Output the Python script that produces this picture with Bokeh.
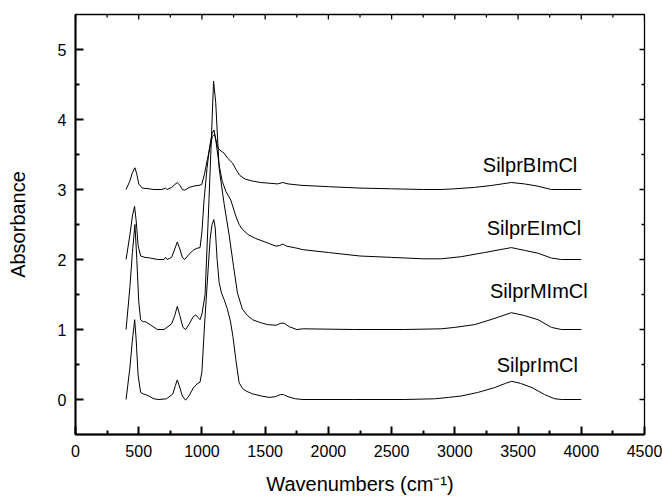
import math
from bokeh.plotting import figure
from bokeh.models import LinearAxis, FixedTicker, Label, ColumnDataSource, Range1d
from bokeh.embed import file_html
from bokeh.resources import INLINE

# ---- data ----
wn_imcl = [400, 430, 450, 468, 480, 495, 515, 535, 555, 580,
           620, 660, 720, 770, 790, 805, 820, 845, 871, 900,
           930, 960, 985, 1000, 1020, 1045, 1065, 1080, 1094, 1105,
           1120, 1136, 1155, 1175, 1200, 1225, 1245, 1268, 1294, 1320,
           1350, 1400, 1470, 1530, 1580, 1620, 1645, 1680, 1740, 1800,
           2200, 2600, 2840, 2950, 3050, 3180, 3315, 3400, 3450, 3520,
           3610, 3710, 3790, 3850, 4000]
abs_imcl = [0.0, 0.45, 0.85, 1.14, 0.85, 0.35, 0.1, 0.08, 0.07, 0.05,
            0.01, 0.0, 0.01, 0.08, 0.2, 0.28, 0.2, 0.05, -0.01, 0.06,
            0.16, 0.22, 0.25, 0.4, 1.05, 1.75, 2.3, 2.5, 2.57, 2.45,
            2.0, 1.67, 1.52, 1.43, 1.3, 1.12, 0.9, 0.57, 0.24, 0.16,
            0.12, 0.08, 0.05, 0.03, 0.04, 0.07, 0.07, 0.04, 0.01, 0.0,
            0.0, 0.0, 0.01, 0.03, 0.05, 0.1, 0.17, 0.23, 0.26, 0.23,
            0.17, 0.07, 0.01, 0.0, 0.0]

wn_mimcl = [400, 430, 450, 470, 485, 500, 515, 535, 555, 590,
            647, 700, 760, 785, 805, 825, 850, 871, 900, 930,
            951, 970, 985, 1000, 1025, 1056, 1075, 1092, 1109, 1136,
            1175, 1215, 1250, 1281, 1320, 1360, 1400, 1460, 1520, 1585,
            1625, 1650, 1690, 1750, 1800, 2200, 2600, 2892, 3000, 3157,
            3300, 3447, 3550, 3658, 3764, 3843, 4000]
abs_mimcl = [1.0, 1.6, 2.1, 2.5, 2.0, 1.4, 1.14, 1.11, 1.11, 1.07,
             1.0, 1.0, 1.08, 1.2, 1.33, 1.2, 1.03, 1.0, 1.08, 1.18,
             1.21, 1.17, 1.14, 1.22, 1.5, 2.86, 3.75, 4.55, 4.24, 3.3,
             2.8, 2.35, 1.9, 1.52, 1.29, 1.2, 1.14, 1.1, 1.07, 1.06,
             1.09, 1.09, 1.04, 1.0, 1.01, 1.0, 1.0, 1.01, 1.03, 1.07,
             1.15, 1.24, 1.2, 1.14, 1.03, 1.0, 1.0]

wn_eimcl = [400, 430, 450, 467, 480, 495, 515, 550, 594, 650,
            700, 712, 725, 760, 785, 805, 825, 845, 864, 900,
            937, 960, 985, 1000, 1017, 1040, 1060, 1080, 1095, 1110,
            1136, 1160, 1190, 1228, 1268, 1294, 1320, 1370, 1426, 1500,
            1585, 1615, 1640, 1670, 1730, 1800, 2000, 2250, 2500, 2750,
            2892, 3050, 3235, 3447, 3552, 3658, 3764, 3843, 4000]
abs_eimcl = [2.0, 2.35, 2.62, 2.76, 2.55, 2.2, 2.05, 2.03, 2.02, 2.0,
             2.0, 2.03, 2.0, 2.03, 2.15, 2.25, 2.15, 2.03, 2.0, 2.08,
             2.14, 2.16, 2.17, 2.4, 2.86, 3.3, 3.6, 3.8, 3.85, 3.7,
             3.35, 3.12, 2.97, 2.85, 2.62, 2.5, 2.43, 2.35, 2.3, 2.25,
             2.19, 2.2, 2.22, 2.19, 2.17, 2.14, 2.1, 2.05, 2.03, 2.01,
             2.01, 2.04, 2.1, 2.17, 2.13, 2.09, 2.02, 2.0, 2.0]

wn_bimcl = [400, 430, 450, 470, 485, 500, 528, 580, 620, 680,
            700, 712, 725, 760, 785, 805, 825, 845, 864, 900,
            937, 977, 998, 1020, 1043, 1063, 1083, 1100, 1122, 1136,
            1175, 1202, 1241, 1268, 1300, 1340, 1400, 1466, 1530, 1598,
            1640, 1680, 1783, 2000, 2258, 2500, 2750, 2892, 3000, 3157,
            3300, 3447, 3550, 3650, 3764, 3850, 4000]
abs_bimcl = [3.0, 3.12, 3.24, 3.31, 3.22, 3.08, 3.02, 3.01, 3.0, 3.0,
             3.01, 3.02, 3.0, 3.03, 3.07, 3.1, 3.06, 3.0, 2.99, 3.03,
             3.05, 3.06, 3.07, 3.22, 3.43, 3.6, 3.76, 3.79, 3.62, 3.57,
             3.52, 3.45, 3.38, 3.29, 3.2, 3.15, 3.12, 3.1, 3.09, 3.08,
             3.1, 3.08, 3.06, 3.04, 3.02, 3.01, 3.0, 3.0, 3.01, 3.03,
             3.06, 3.1, 3.08, 3.05, 3.0, 3.0, 3.0]

series_names = ["SilprImCl", "SilprMImCl", "SilprEImCl", "SilprBImCl"]
series_wn = [wn_imcl, wn_mimcl, wn_eimcl, wn_bimcl]
series_abs = [abs_imcl, abs_mimcl, abs_eimcl, abs_bimcl]

x_major = [0, 500, 1000, 1500, 2000, 2500, 3000, 3500, 4000, 4500]
x_minor = [250, 750, 1250, 1750, 2250, 2750, 3250, 3750, 4250]
y_major = [0, 1, 2, 3, 4, 5]
y_minor = [0.5, 1.5, 2.5, 3.5, 4.5]

FONT = "Liberation Sans"
X0, X1 = 0, 4500
Y0, Y1 = -0.5, 5.5

p = figure(width=662, height=497, output_backend="svg", toolbar_location=None,
           x_range=Range1d(X0, X1), y_range=Range1d(Y0, Y1),
           x_axis_location=None, y_axis_location=None,
           min_border_left=75, min_border_right=18, min_border_top=14, min_border_bottom=63)
p.xgrid.visible = False
p.ygrid.visible = False
p.outline_line_color = "black"
p.outline_line_width = 1.3
p.background_fill_color = "white"
p.border_fill_color = "white"


def make_axis(ticks, minor):
    ax = LinearAxis(ticker=FixedTicker(ticks=ticks, minor_ticks=minor))
    ax.major_tick_in = 8
    ax.major_tick_out = 0
    ax.minor_tick_in = 4
    ax.minor_tick_out = 0
    ax.axis_line_width = 2
    ax.axis_line_color = "black"
    ax.major_tick_line_width = 2
    ax.minor_tick_line_width = 2
    ax.major_tick_line_color = "black"
    ax.minor_tick_line_color = "black"
    ax.major_label_text_font = FONT
    ax.major_label_text_font_size = "16px"
    ax.major_label_text_color = "black"
    ax.axis_label_text_font = FONT
    ax.axis_label_text_font_size = "20px"
    ax.axis_label_text_font_style = "normal"
    ax.axis_label_text_color = "black"
    return ax


bottom = make_axis(x_major, x_minor)
bottom.major_label_standoff = 10
bottom.axis_label = "Wavenumbers (cm\u207b\u00b9)"
bottom.axis_label_standoff = 13
left = make_axis(y_major, y_minor)
left.major_label_standoff = 9
left.axis_label = "Absorbance"
left.axis_label_standoff = 26
p.add_layout(bottom, "below")
p.add_layout(left, "left")

# inward ticks on the top and right edges of the frame
p.ray(x=x_major, y=[Y1] * len(x_major), length=5, length_units="screen",
      angle=-math.pi / 2, line_color="black", line_width=1.3)
p.ray(x=x_minor, y=[Y1] * len(x_minor), length=3, length_units="screen",
      angle=-math.pi / 2, line_color="black", line_width=1.3)
p.ray(x=[X1] * len(y_major), y=y_major, length=5, length_units="screen",
      angle=math.pi, line_color="black", line_width=1.3)
p.ray(x=[X1] * len(y_minor), y=y_minor, length=3, length_units="screen",
      angle=math.pi, line_color="black", line_width=1.3)

for wn, ab in zip(series_wn, series_abs):
    src = ColumnDataSource(data=dict(x=wn, y=ab))
    p.line("x", "y", source=src, line_color="black", line_width=1)

# series labels
label_pos = [(3652, 0.49), (3664, 1.553), (3626, 2.457), (3595, 3.347)]
for name, (lx, ly) in zip(series_names, label_pos):
    p.add_layout(Label(x=lx, y=ly, text=name, text_align="center", text_baseline="alphabetic",
                       text_font=FONT, text_font_size="20px", text_color="black"))

open("out.html", "w").write(file_html(p, INLINE))
